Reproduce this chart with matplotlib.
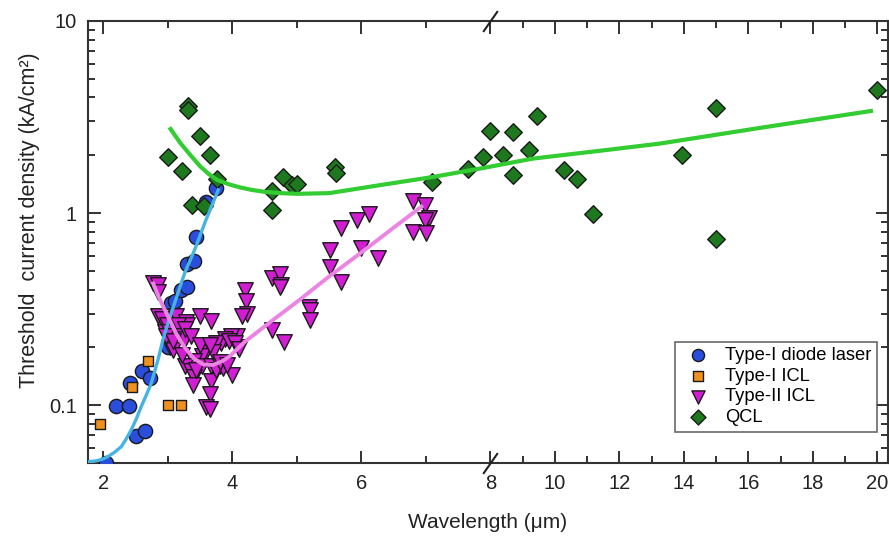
import numpy as np
import matplotlib
matplotlib.use('Agg')
import matplotlib.pyplot as plt
from matplotlib.ticker import FixedLocator, NullFormatter, LogLocator

plt.rcParams['font.family'] = ['Liberation Sans', 'DejaVu Sans']

# Type-I diode lasers
diode_x = [2.04, 2.19, 2.40, 2.50, 2.64, 2.41, 2.60, 2.72, 3.00, 3.05, 3.11,
           3.20, 3.29, 3.29, 3.41, 3.43, 3.59, 3.74]
diode_y = [0.050, 0.099, 0.099, 0.069, 0.073, 0.131, 0.151, 0.139, 0.201,
           0.341, 0.349, 0.398, 0.41, 0.544, 0.56, 0.75, 1.14, 1.35]

# Type-I ICL
t1icl_x = [1.95, 2.44, 2.69, 3.00, 3.20]
t1icl_y = [0.080, 0.124, 0.170, 0.100, 0.100]

# Type-II ICL
t2icl_x = [2.77, 2.85, 2.85, 2.85, 2.91, 2.98, 2.95, 3.02, 3.13, 3.28, 3.30,
           3.16, 3.10, 3.23, 3.26, 3.49, 3.66, 4.20, 4.21, 4.22, 4.15, 4.07,
           3.98, 3.88, 3.83, 3.75, 3.52, 3.59, 3.70, 3.52, 3.41, 3.36, 3.52,
           3.67, 3.80, 3.85, 3.26, 3.36, 3.41, 3.67, 3.99, 3.75, 3.39, 3.65,
           3.59, 3.65, 3.03, 3.08, 3.21, 2.97, 3.08, 3.27, 3.36, 3.50, 3.65,
           3.95, 4.08, 3.44, 3.80, 3.91,
           4.04, 4.10, 4.61, 4.74, 4.76, 4.74, 4.61, 4.80, 5.18, 5.20, 5.20,
           5.51, 5.51, 5.69, 5.69, 5.93, 6.12, 6.00, 6.25,
           6.80, 6.98, 7.05, 6.98, 6.80, 7.00]
t2icl_y = [0.43, 0.42, 0.39, 0.29, 0.28, 0.26, 0.24, 0.24, 0.29, 0.27, 0.26,
           0.26, 0.23, 0.23, 0.22, 0.29, 0.275, 0.40, 0.35, 0.30, 0.29, 0.23,
           0.23, 0.22, 0.21, 0.21, 0.20, 0.19, 0.19, 0.18, 0.17, 0.16, 0.16,
           0.16, 0.16, 0.156, 0.16, 0.15, 0.14, 0.133, 0.144, 0.153, 0.128,
           0.115, 0.098, 0.096, 0.20, 0.194, 0.183, 0.23, 0.215, 0.25, 0.228,
           0.205, 0.206, 0.215, 0.20, 0.153, 0.168, 0.162,
           0.21, 0.195, 0.46, 0.48, 0.42, 0.41, 0.247, 0.214, 0.326, 0.313,
           0.278, 0.644, 0.523, 0.44, 0.835, 0.915, 0.99, 0.657, 0.587,
           1.15, 1.10, 0.94, 0.92, 0.80, 0.79]

# QCL
qcl_x = [3.31, 3.31, 3.50, 3.00, 3.21, 3.65, 3.76, 3.38, 3.56, 4.61, 4.61,
         4.79, 4.92, 5.00, 5.59, 5.60, 7.09, 7.66, 7.89, 8.00, 8.38, 8.69,
         8.71, 9.19, 9.44, 10.27, 10.68, 11.18, 13.95, 14.99, 14.99, 20.0]
qcl_y = [3.60, 3.45, 2.51, 1.97, 1.65, 2.01, 1.51, 1.10, 1.09, 1.30, 1.04,
         1.55, 1.40, 1.42, 1.74, 1.62, 1.45, 1.69, 1.95, 2.69, 2.01, 2.63,
         1.58, 2.12, 3.21, 1.68, 1.50, 0.99, 2.01, 3.52, 0.732, 4.35]

# fit curves
diode_fit_x = [1.764, 1.87, 1.946, 2.01, 2.07, 2.17, 2.276, 2.35, 2.43, 2.51,
               2.586, 2.665, 2.741, 2.845, 2.922, 3.0, 3.104, 3.259, 3.414,
               3.59, 3.78]
diode_fit_y = [0.0508, 0.0512, 0.0519, 0.0528, 0.054, 0.0568, 0.0608, 0.0665,
               0.0743, 0.085, 0.0984, 0.113, 0.130, 0.172, 0.219, 0.268,
               0.341, 0.487, 0.644, 0.923, 1.32]

t2_fit_x = [2.77, 2.85, 3.0, 3.13, 3.26, 3.4, 3.55, 3.7, 3.85, 3.96, 4.2,
            4.55, 5.0, 5.5, 6.0, 6.5, 6.93]
t2_fit_y = [0.43, 0.37, 0.29, 0.235, 0.20, 0.175, 0.163, 0.162, 0.17, 0.18,
            0.215, 0.265, 0.345, 0.468, 0.624, 0.84, 1.08]

qcl_fit_x = [3.04, 3.19, 3.35, 3.5, 3.63, 3.76, 3.95, 4.12, 4.3, 4.5, 4.75,
             5.0, 5.5, 6.3, 7.1, 7.9, 9.3, 11.7, 13.25, 16.5, 19.8]
qcl_fit_y = [2.74, 2.32, 2.0, 1.75, 1.60, 1.49, 1.41, 1.36, 1.32, 1.29, 1.27,
             1.26, 1.27, 1.40, 1.54, 1.72, 1.92, 2.14, 2.30, 2.80, 3.40]


def fwd(x):
    x = np.asarray(x, dtype=float)
    return np.where(x <= 8, x, 8 + (x - 8) / 2)


def inv(p):
    p = np.asarray(p, dtype=float)
    return np.where(p <= 8, p, 8 + (p - 8) * 2)


fig = plt.figure(figsize=(8.89, 5.36), dpi=100)
ax = fig.add_axes([88 / 889, 73 / 536, 800 / 889, 442 / 536])
ax.set_xscale('function', functions=(fwd, inv))
ax.set_yscale('log')

ec = '#1a1a1a'
ax.scatter(diode_x, diode_y, s=105, marker='o', c='#2a4ddc', edgecolors=ec,
           linewidths=1.0, zorder=3, label='Type-I diode laser')
ax.scatter(t1icl_x, t1icl_y, s=62, marker='s', c='#f0901e', edgecolors=ec,
           linewidths=1.0, zorder=3, label='Type-I ICL')
ax.scatter(t2icl_x, t2icl_y, s=125, marker='v', c='#d21ed2', edgecolors=ec,
           linewidths=1.0, zorder=3, label='Type-II ICL')
ax.scatter(qcl_x, qcl_y, s=80, marker='D', c='#1e781e', edgecolors=ec,
           linewidths=1.0, zorder=3, label='QCL')

ax.plot(diode_fit_x, diode_fit_y, color='#45b4e4', lw=2.4, zorder=4)
ax.plot(t2_fit_x, t2_fit_y, color='#ec84e4', lw=2.8, zorder=4)
ax.plot(qcl_fit_x, qcl_fit_y, color='#33cc33', lw=3.0, zorder=4)

ax.set_xlim(1.76, 20.33)
ax.set_ylim(0.05, 10)

ax.xaxis.set_major_locator(FixedLocator([2, 4, 6, 8, 10, 12, 14, 16, 18, 20]))
ax.xaxis.set_minor_locator(FixedLocator([3, 5, 7, 9, 11, 13, 15, 17, 19]))
ax.xaxis.set_minor_formatter(NullFormatter())
ax.set_xticklabels(['2', '4', '6', '8', '10', '12', '14', '16', '18', '20'])
ax.yaxis.set_major_locator(FixedLocator([0.1, 1, 10]))
ax.yaxis.set_minor_locator(LogLocator(base=10, subs=np.arange(2, 10)))
ax.yaxis.set_minor_formatter(NullFormatter())
ax.set_yticklabels(['0.1', '1', '10'])

ax.tick_params(which='both', direction='in', top=True, right=True,
               labelsize=14.5, colors='#222222', width=1.3)
ax.tick_params(which='major', length=9, pad=8)
ax.tick_params(which='minor', length=5)
for sp in ax.spines.values():
    sp.set_linewidth(1.5)
    sp.set_color('#333333')

ax.set_xlabel('Wavelength (\u03bcm)', fontsize=15, color='#222222', labelpad=14)
ax.set_ylabel('Threshold  current density (kA/cm\u00b2)', fontsize=15.5,
              color='#222222')
ax.yaxis.set_label_coords(-0.06, 0.55)

# axis break marks at 8 um
brk = [(-0.7, -1), (0.7, 1)]
for yy in (0, 1):
    ax.plot([8], [yy], marker=brk, ms=15, mew=1.5, color='#222222',
            transform=ax.get_xaxis_transform(), clip_on=False, zorder=5)

leg = ax.legend(loc='lower right', bbox_to_anchor=(0.986, 0.071), fontsize=13.2,
                frameon=True, fancybox=False, edgecolor='#444444',
                borderpad=0.3, labelspacing=0.2, handletextpad=0.45,
                handlelength=2.0, borderaxespad=0, scatterpoints=1,
                markerscale=0.85)
leg.get_frame().set_linewidth(1.2)

fig.savefig('out.png', dpi=100)
